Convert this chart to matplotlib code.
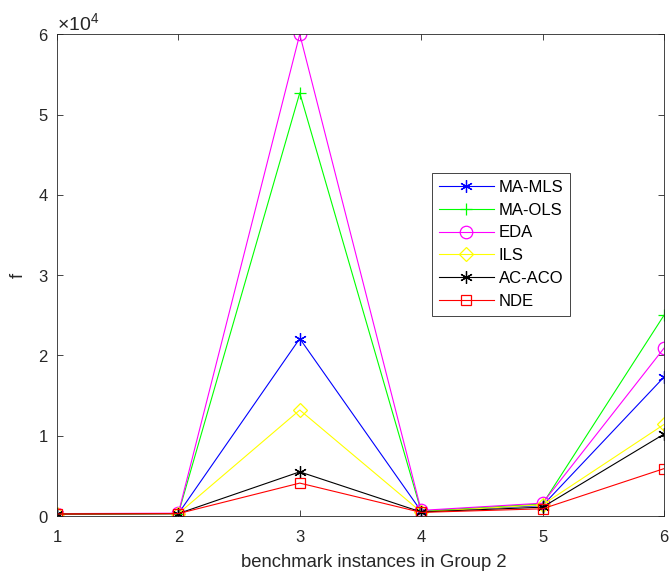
import matplotlib.pyplot as plt
from matplotlib.ticker import ScalarFormatter

plt.rcParams['font.family'] = ['Liberation Sans', 'DejaVu Sans']
plt.rcParams['mathtext.fontset'] = 'custom'
plt.rcParams['mathtext.rm'] = 'Liberation Sans'

# benchmark instances
instances = [1, 2, 3, 4, 5, 6]

# objective values
ma_mls = [250, 300, 22100, 600, 1300, 17300]
ma_ols = [250, 300, 52700, 600, 1500, 25000]
eda = [300, 350, 60000, 700, 1600, 20900]
ils = [250, 300, 13200, 500, 1400, 11400]
ac_aco = [250, 300, 5500, 500, 1100, 10200]
nde = [250, 300, 4100, 450, 900, 5900]

asterisk = (6, 2, 0)
series = [
    ("MA-MLS", ma_mls, (0, 0, 1), asterisk),
    ("MA-OLS", ma_ols, (0, 1, 0), "+"),
    ("EDA", eda, (1, 0, 1), "o"),
    ("ILS", ils, (1, 1, 0), "D"),
    ("AC-ACO", ac_aco, (0, 0, 0), asterisk),
    ("NDE", nde, (1, 0, 0), "s"),
]

axcol = (0.15, 0.15, 0.15)
fig = plt.figure(figsize=(6.7, 5.71), dpi=100)
ax = fig.add_axes([0.085, 0.0963, 0.906, 0.8437])

for name, vals, col, mk in series:
    ms = 9
    if mk == "D":
        ms = 7
    elif mk == "s":
        ms = 7
    ax.plot(instances, vals, color=col, marker=mk, markersize=ms,
            markerfacecolor="none", markeredgecolor=col, markeredgewidth=0.9,
            linewidth=0.8, label=name)

ax.set_xlim(1, 6)
ax.set_ylim(0, 60000)
ax.set_xticks(instances)
ax.set_yticks([0, 10000, 20000, 30000, 40000, 50000, 60000])
fmt = ScalarFormatter(useMathText=True)
fmt.set_powerlimits((0, 0))
ax.yaxis.set_major_formatter(fmt)
ax.yaxis.get_offset_text().set_fontsize(14)
ax.yaxis.get_offset_text().set_color(axcol)

ax.tick_params(direction="in", length=4, width=0.6, colors=axcol,
               labelsize=12, top=True, right=True)
ax.tick_params(axis="x", pad=10)
ax.tick_params(axis="y", pad=6)
for sp in ax.spines.values():
    sp.set_color(axcol)
    sp.set_linewidth(0.6)

ax.set_xlabel("benchmark instances in Group 2", fontsize=13.3, color=axcol)
ax.xaxis.set_label_coords(0.522, -0.078)
ax.set_ylabel("f", fontsize=13.3, color=axcol, labelpad=8)

leg = ax.legend(loc="upper left", bbox_to_anchor=(0.618, 0.712), fontsize=12,
                handlelength=3.3, numpoints=1, fancybox=False, framealpha=1,
                borderpad=0.4, labelspacing=0.47, handletextpad=0.3,
                borderaxespad=0)
leg.get_frame().set_edgecolor(axcol)
leg.get_frame().set_linewidth(0.6)

fig.savefig("out.png", dpi=100)
